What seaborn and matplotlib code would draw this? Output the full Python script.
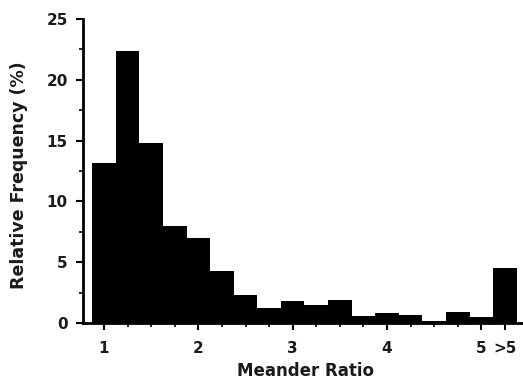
import numpy as np
import pandas as pd
import matplotlib
matplotlib.use("Agg")
import matplotlib.pyplot as plt
import seaborn as sns
from matplotlib.ticker import FixedLocator

# Bin centres (meander ratio), last bin is the ">5" class
bin_centers = [1.0, 1.25, 1.5, 1.75, 2.0, 2.25, 2.5, 2.75, 3.0, 3.25,
               3.5, 3.75, 4.0, 4.25, 4.5, 4.75, 5.0, 5.25]
rel_freq = [13.2, 22.4, 14.8, 8.0, 7.0, 4.3, 2.35, 1.2, 1.8, 1.5,
            1.9, 0.6, 0.87, 0.65, 0.15, 0.95, 0.5, 4.5]
bin_width = 0.25
xtick_pos = [1, 2, 3, 4, 5, 5.25]
xtick_labels = ["1", "2", "3", "4", "5", ">5"]
ytick_pos = [0, 5, 10, 15, 20, 25]

df = pd.DataFrame({"ratio": bin_centers, "freq": rel_freq})
edges = [c - bin_width / 2 for c in bin_centers] + [bin_centers[-1] + bin_width / 2]

sns.set_theme(style="ticks")
plt.rcParams["font.family"] = ["DejaVu Sans"]

fig = plt.figure(figsize=(5.23, 3.81), dpi=100)
ax = fig.add_axes([0.159, 0.152, 0.841, 0.798])

sns.histplot(data=df, x="ratio", weights="freq", bins=edges, color="black",
             alpha=1.0, edgecolor="black", linewidth=0, ax=ax, legend=False)

ax.set_xlim(0.78, 5.44)
ax.set_ylim(0, 25)
for s in ["top", "right"]:
    ax.spines[s].set_visible(False)
ax.spines["left"].set_linewidth(2)
ax.spines["bottom"].set_linewidth(2)
ax.spines["left"].set_color("black")
ax.spines["bottom"].set_color("black")

ax.set_xticks(xtick_pos)
ax.set_xticklabels(xtick_labels)
ax.xaxis.set_minor_locator(FixedLocator([1.25, 1.5, 1.75, 2.25, 2.5, 2.75, 3.25, 3.5,
                                         3.75, 4.25, 4.5, 4.75]))
ax.set_yticks(ytick_pos)
ax.yaxis.set_minor_locator(FixedLocator([2.5, 7.5, 12.5, 17.5, 22.5]))

ax.tick_params(axis="both", which="major", length=5, width=1.5, color="black",
               labelsize=11, pad=6, labelcolor="#1a1a1a")
ax.tick_params(axis="x", which="major", pad=8)
ax.tick_params(axis="both", which="minor", length=3, width=1.2, color="black")
for lab in ax.get_xticklabels() + ax.get_yticklabels():
    lab.set_fontweight("bold")

ax.set_xlabel("Meander Ratio", fontsize=12, fontweight="bold", color="#1a1a1a")
ax.set_ylabel("Relative Frequency (%)", fontsize=12.5, fontweight="bold", color="#1a1a1a")
ax.xaxis.set_label_coords(0.505, -0.128)
ax.yaxis.set_label_coords(-0.125, 0.485)

fig.savefig("out.png", dpi=100)
